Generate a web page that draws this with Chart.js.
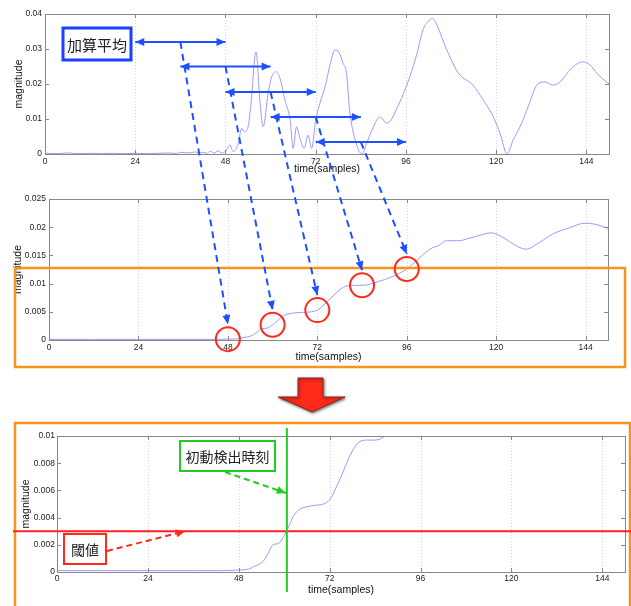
<!DOCTYPE html>
<html>
<head>
<meta charset="utf-8">
<script src="https://cdn.jsdelivr.net/npm/chart.js@4.4.1/dist/chart.umd.min.js"></script>
<style>
  body { margin: 0; background: #fff; }
  #wrap { position: relative; width: 631px; height: 606px; overflow: hidden; }
  canvas { position: absolute; left: 0; }
</style>
</head>
<body>
<div id="wrap">
  <canvas id="c1" width="631" height="180" style="top:0px"></canvas>
  <canvas id="c2" width="631" height="180" style="top:185px"></canvas>
  <canvas id="c3" width="631" height="186" style="top:420px"></canvas>
  <canvas id="ov" width="631" height="606" style="top:0px"></canvas>
</div>
<script>
// tick labels
const xTicks = [0, 24, 48, 72, 96, 120, 144];
const yTicksRaw = [0, 0.01, 0.02, 0.03, 0.04];
const yTicksAvg = [0, 0.005, 0.01, 0.015, 0.02, 0.025];
const yTicksZoom = [0, 0.002, 0.004, 0.006, 0.008, 0.01];

// raw waveform (top panel)
const rawT = [0, 3, 6, 9, 12, 15, 18, 21, 24, 27, 30, 33, 35, 36, 38, 40, 41, 42, 43, 44, 45, 46, 47, 48,
  49.2, 50, 51.4, 52.3, 53, 53.9, 54.8, 56.1, 57.2, 58, 59.4, 60.3, 61.4, 62.5, 63.8, 65.2, 66, 66.9, 67.8,
  68.9, 70, 70.9, 72, 73.1, 74.5, 75.8, 77.1, 78.2, 79.3, 80.2, 81, 82.5, 84.3, 85.5, 87, 89, 91, 94, 97, 99,
  100.5, 102, 103, 104, 106, 107.7, 110, 113.8, 116.5, 119, 121, 122.9, 124.5, 126.3, 128.5, 130.8, 133,
  135, 137, 140, 143, 145, 146.8, 150];
const rawV = [0.0002, 0.0001, 0.0003, 0.0001, 0.0002, 0.0001, 0.0002, 0.0001, 0.0002, 0.0001, 0.0002, 0.0003,
  0.0001, 0.0005, 0.0003, 0.0006, 0.0002, 0.0005, 0.0002, 0.0008, 0.0002, 0.0009, 0.0003, 0.0008,
  0.0026, 0.0007, 0.003, 0.0073, 0.0064, 0.0073, 0.0145, 0.0292, 0.0146, 0.0078, 0.0178, 0.0221, 0.0235,
  0.0216, 0.0154, 0.0097, 0.0016, 0.0078, 0.0045, 0.0016, 0.0054, 0.0016, 0.0097, 0.0145, 0.0192, 0.0255,
  0.0297, 0.029, 0.0259, 0.023, 0.0126, 0.004, 0.0, 0.003, 0.0069, 0.0106, 0.0088, 0.014, 0.022, 0.029,
  0.0354, 0.038, 0.0388, 0.0374, 0.032, 0.0277, 0.023, 0.0197, 0.0155, 0.0111, 0.006, 0.0, 0.004, 0.0077,
  0.0135, 0.0197, 0.0206, 0.0197, 0.0206, 0.0245, 0.0263, 0.0254, 0.023, 0.02];

// moving average (middle and bottom panels)
const avgT = [0, 12, 24, 36, 44, 48, 50.5, 52, 54.5, 56, 57, 58.5, 60, 61, 62.4, 64, 66, 68, 70.4, 72, 73,
  75, 76.5, 78, 80, 82, 84, 85.5, 87, 90, 92.3, 94, 96, 98, 99.5, 101, 103, 104.5, 106.6, 110, 112.5, 114.7,
  118.7, 121.8, 125.4, 128, 131.6, 135.2, 139.7, 143.7, 146.8, 150];
const avgV = [0.0001, 0.0001, 0.0001, 0.0001, 0.0001, 0.00015, 0.0002, 0.0004, 0.0008, 0.0015, 0.002, 0.0021,
  0.0027, 0.0032, 0.0041, 0.0046, 0.0048, 0.0049, 0.005, 0.0053, 0.0058, 0.007, 0.008, 0.0089, 0.0096,
  0.0097, 0.0097, 0.0098, 0.0101, 0.0107, 0.0113, 0.0118, 0.0126, 0.0137, 0.0146, 0.0155, 0.0164, 0.0167,
  0.0176, 0.0176, 0.018, 0.0184, 0.019, 0.0182, 0.0167, 0.0161, 0.0173, 0.0188, 0.0199, 0.0207, 0.0205,
  0.0198];

// averaging windows
const winStart = [24, 36, 48, 60, 72];
const winEnd = [48, 60, 72, 84, 96];
const winLevel = [0.032, 0.025, 0.0177, 0.0106, 0.0034];

const threshold = 0.003;
const onset = 60.7;

Chart.defaults.font.family = "'Liberation Sans', Arial, sans-serif";

// matlab-like box, dotted x grid and inward ticks
const matlabAxes = {
  id: 'matlabAxes',
  beforeDatasetsDraw(chart) {
    const { ctx, chartArea: a, scales: { x } } = chart;
    ctx.save();
    ctx.strokeStyle = '#d4d4d4';
    ctx.lineWidth = 1;
    ctx.setLineDash([1, 2]);
    x.ticks.forEach(t => {
      const p = Math.round(x.getPixelForValue(t.value)) + 0.5;
      if (p <= a.left + 1) return;
      ctx.beginPath();
      ctx.moveTo(p, a.top);
      ctx.lineTo(p, a.bottom);
      ctx.stroke();
    });
    ctx.restore();
  },
  afterDraw(chart) {
    const { ctx, chartArea: a, scales: { x, y } } = chart;
    ctx.save();
    ctx.strokeStyle = '#888';
    ctx.lineWidth = 1;
    ctx.strokeRect(Math.round(a.left) + 0.5, Math.round(a.top) + 0.5,
      Math.round(a.right - a.left), Math.round(a.bottom - a.top));
    ctx.beginPath();
    x.ticks.forEach(t => {
      const p = Math.round(x.getPixelForValue(t.value)) + 0.5;
      ctx.moveTo(p, a.bottom); ctx.lineTo(p, a.bottom - 4);
      ctx.moveTo(p, a.top); ctx.lineTo(p, a.top + 4);
    });
    y.ticks.forEach(t => {
      const p = Math.round(y.getPixelForValue(t.value)) + 0.5;
      ctx.moveTo(a.left, p); ctx.lineTo(a.left + 4, p);
      ctx.moveTo(a.right, p); ctx.lineTo(a.right - 4, p);
    });
    ctx.stroke();
    ctx.restore();
  }
};

function makeChart(id, t, v, yTicks, g) {
  return new Chart(document.getElementById(id), {
    type: 'line',
    data: {
      datasets: [{
        data: t.map((s, i) => ({ x: s, y: v[i] })),
        borderColor: '#9a9aff',
        borderWidth: 1,
        pointRadius: 0,
        cubicInterpolationMode: 'monotone',
        fill: false,
      }],
    },
    options: {
      responsive: false,
      animation: false,
      devicePixelRatio: 1,
      layout: { padding: { top: g.top, right: g.right, left: 0, bottom: 0 } },
      plugins: { legend: { display: false }, tooltip: { enabled: false } },
      scales: {
        x: {
          type: 'linear', min: 0, max: 150,
          afterBuildTicks: ax => { ax.ticks = xTicks.map(value => ({ value })); },
          afterFit: ax => { ax.height = g.xh; },
          grid: { display: false, drawTicks: false },
          border: { display: false },
          ticks: { color: '#222', font: { size: 8.5 }, padding: g.xpad, maxRotation: 0, autoSkip: false },
          title: { display: true, text: 'time(samples)', color: '#111', font: { size: 10.5 },
            padding: { top: 0, bottom: g.xtitle } },
        },
        y: {
          min: 0, max: yTicks[yTicks.length - 1],
          afterBuildTicks: ax => { ax.ticks = yTicks.map(value => ({ value })); },
          afterFit: ax => { ax.width = g.yw; },
          grid: { display: false, drawTicks: false },
          border: { display: false },
          ticks: { color: '#222', font: { size: 8.5 }, padding: g.ypad,
            callback: val => String(+val.toFixed(4)) },
          title: { display: true, text: 'magnitude', color: '#111', font: { size: 10.5 },
            padding: { top: g.ytitle, bottom: 0 } },
        },
      },
    },
    plugins: [matlabAxes],
  });
}

const c1 = makeChart('c1', rawT, rawV, yTicksRaw,
  { top: 14, right: 22, xh: 26, yw: 45, xpad: 3, ypad: 3, xtitle: 5, ytitle: 13 });
const c2 = makeChart('c2', avgT, avgV, yTicksAvg,
  { top: 14, right: 23, xh: 25, yw: 49, xpad: 3, ypad: 3, xtitle: 2, ytitle: 12 });
const c3 = makeChart('c3', avgT, avgV, yTicksZoom,
  { top: 16, right: 6, xh: 34, yw: 57, xpad: 2, ypad: 2, xtitle: 10, ytitle: 20 });

// ---- annotation overlay ----
const ctx = document.getElementById('ov').getContext('2d');
const px = (ch, s) => ch.scales.x.getPixelForValue(s) + ch.canvas.offsetLeft;
const py = (ch, v) => ch.scales.y.getPixelForValue(v) + ch.canvas.offsetTop;
const avgAt = s => avgV[avgT.indexOf(s)];

function head(x1, y1, x2, y2, color, len, w) {
  const a = Math.atan2(y2 - y1, x2 - x1);
  ctx.save();
  ctx.setLineDash([]);
  ctx.fillStyle = color;
  ctx.beginPath();
  ctx.moveTo(x2, y2);
  ctx.lineTo(x2 - len * Math.cos(a) + w * Math.sin(a), y2 - len * Math.sin(a) - w * Math.cos(a));
  ctx.lineTo(x2 - len * Math.cos(a) - w * Math.sin(a), y2 - len * Math.sin(a) + w * Math.cos(a));
  ctx.closePath();
  ctx.fill();
  ctx.restore();
}

function arrow(x1, y1, x2, y2, color, dash, both) {
  ctx.save();
  ctx.strokeStyle = color;
  ctx.lineWidth = 2;
  ctx.setLineDash(dash);
  ctx.beginPath();
  ctx.moveTo(x1, y1);
  ctx.lineTo(x2, y2);
  ctx.stroke();
  ctx.restore();
  head(x1, y1, x2, y2, color, 9, 4);
  if (both) head(x2, y2, x1, y1, color, 9, 4);
}

function box(x, y, w, h, color, lw, label, size) {
  ctx.save();
  ctx.fillStyle = '#fff';
  ctx.fillRect(x, y, w, h);
  ctx.strokeStyle = color;
  ctx.lineWidth = lw;
  ctx.strokeRect(x, y, w, h);
  ctx.fillStyle = '#222';
  ctx.font = size + "px 'Noto Sans CJK JP'";
  ctx.textAlign = 'center';
  ctx.textBaseline = 'middle';
  ctx.fillText(label, x + w / 2, y + h / 2 + 1);
  ctx.restore();
}

// orange frames
ctx.strokeStyle = '#f7941d';
ctx.lineWidth = 2.5;
ctx.strokeRect(15, 268, 610, 99);
ctx.strokeRect(15, 423, 615, 190);

// big red arrow
ctx.save();
ctx.shadowColor = 'rgba(0,0,0,0.55)';
ctx.shadowBlur = 3;
ctx.shadowOffsetX = 1;
ctx.shadowOffsetY = 1;
ctx.fillStyle = '#ff2a1a';
ctx.strokeStyle = '#8a2a20';
ctx.lineWidth = 1;
ctx.beginPath();
ctx.moveTo(298, 378); ctx.lineTo(323, 378); ctx.lineTo(323, 397); ctx.lineTo(345, 397);
ctx.lineTo(312, 412); ctx.lineTo(278, 397); ctx.lineTo(298, 397); ctx.closePath();
ctx.fill();
ctx.stroke();
ctx.restore();

// averaging windows and where they land on the average
const blue = '#1f50ff';
winStart.forEach((s, i) => {
  const y = py(c1, winLevel[i]);
  arrow(px(c1, s), y, px(c1, winEnd[i]), y, blue, [], true);
  const cx = px(c2, winEnd[i]);
  const cy = py(c2, avgAt(winEnd[i]));
  arrow(px(c1, (s + winEnd[i]) / 2), y, cx, cy - 15, blue, [7, 5], false);
  ctx.save();
  ctx.strokeStyle = '#ff2a1a';
  ctx.lineWidth = 2;
  ctx.beginPath();
  ctx.arc(cx, cy, 12, 0, Math.PI * 2);
  ctx.stroke();
  ctx.restore();
});
box(63, 28, 68, 32, '#1a3fff', 3, '加算平均', 15);

// threshold and onset
const ty = py(c3, threshold);
ctx.save();
ctx.strokeStyle = '#ff2020';
ctx.lineWidth = 2;
ctx.beginPath(); ctx.moveTo(13, ty); ctx.lineTo(631, ty); ctx.stroke();
const gx = px(c3, onset);
ctx.strokeStyle = '#22cc22';
ctx.beginPath(); ctx.moveTo(gx, 428); ctx.lineTo(gx, 592); ctx.stroke();
ctx.restore();

box(180, 441, 95, 30, '#22cc22', 2, '初動検出時刻', 14);
arrow(225, 472, gx - 1, 493, '#22cc22', [6, 4], false);
box(64, 534, 42, 30, '#ff2a1a', 2, '閾値', 14);
arrow(107, 551, 185, ty, '#ff2a1a', [6, 4], false);
</script>
</body>
</html>
